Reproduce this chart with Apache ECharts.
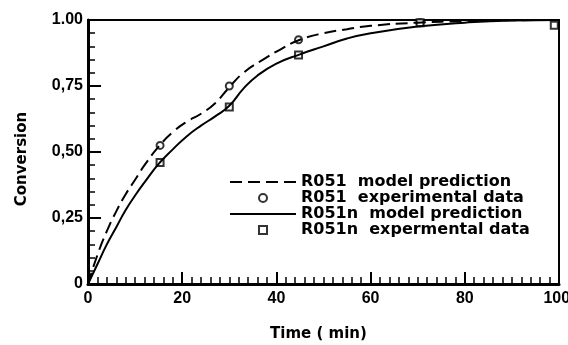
<!DOCTYPE html>
<html>
<head>
<meta charset="utf-8">
<script src="https://cdn.jsdelivr.net/npm/echarts@6/dist/echarts.min.js"></script>
<style>
  html, body { margin: 0; padding: 0; background: #fff; }
  #chart { width: 568px; height: 345px; }
</style>
</head>
<body>
<div id="chart"></div>
<script>
// Conversion vs time for catalysts R051 and R051n
const seriesNames = [
  'R051  model prediction',
  'R051  experimental data',
  'R051n  model prediction',
  'R051n  expermental data'
];

// model curves: [time (min), conversion]
const r051Model = [
  [0, 0], [2, 0.11], [4, 0.20], [6, 0.275], [8, 0.34], [10, 0.395], [12, 0.45],
  [15, 0.52], [18, 0.575], [21, 0.615], [24, 0.645], [27, 0.685], [30, 0.745],
  [33, 0.80], [37, 0.848], [41, 0.89], [45, 0.925], [50, 0.95], [55, 0.965],
  [60, 0.978], [70, 0.99], [80, 0.996], [90, 0.999], [100, 1.0]
];
const r051nModel = [
  [0, 0], [2, 0.075], [4, 0.15], [6, 0.215], [8, 0.28], [10, 0.335], [12, 0.385],
  [15, 0.455], [18, 0.51], [21, 0.56], [24, 0.60], [27, 0.635], [30, 0.675],
  [33, 0.74], [36, 0.79], [40, 0.835], [45, 0.87], [50, 0.90],
  [55, 0.93], [60, 0.95], [70, 0.975], [80, 0.99], [90, 0.998], [100, 1.0]
];

// measured points
const r051Data = [[15.3, 0.525], [30, 0.75], [44.7, 0.925], [70.5, 0.99]];
const r051nData = [[15.3, 0.46], [30, 0.67], [44.7, 0.867], [70.5, 0.99], [99, 0.98]];

const yTickLabels = { '0': '0', '0.25': '0,25', '0.5': '0,50', '0.75': '0,75', '1': '1.00' };

const FONT = 'DejaVu Sans';
const TICK_FONT = '"Liberation Sans", Arial, sans-serif';
const INK = '#000';
const SQUARE = 'path://M0,0H10V10H0Z';
const hidden = { color: 'rgba(0,0,0,0)', borderWidth: 0, borderColor: 'rgba(0,0,0,0)' };

const chart = echarts.init(document.getElementById('chart'), null, { renderer: 'canvas' });

chart.setOption({
  animation: false,
  backgroundColor: '#fff',
  grid: {
    left: 88, right: 9, top: 20, bottom: 61,
    outerBoundsMode: 'none', containLabel: false,
    show: true, borderColor: INK, borderWidth: 2, backgroundColor: 'transparent'
  },
  xAxis: {
    type: 'value', min: 0, max: 100, interval: 20,
    name: 'Time ( min)', nameLocation: 'middle', nameGap: 43,
    nameTextStyle: { fontFamily: FONT, fontSize: 15, fontWeight: 'bold', color: INK, padding: [0, 10, 0, 0] },
    axisLine: { show: true, onZero: false, lineStyle: { color: INK, width: 3 } },
    axisTick: { show: true, inside: true, length: 12, lineStyle: { color: INK, width: 2 } },
    minorTick: { show: true, splitNumber: 10, length: 7, lineStyle: { color: INK, width: 1.5 } },
    axisLabel: {
      fontFamily: TICK_FONT, fontSize: 16, fontWeight: 'bold', color: INK, margin: 7,
      // a trailing space nudges the last label back toward the canvas
      formatter: v => (v === 100 ? '100 ' : String(v))
    },
    splitLine: { show: false }
  },
  yAxis: {
    type: 'value', min: 0, max: 1, interval: 0.25,
    name: 'Conversion', nameLocation: 'middle', nameGap: 58, nameRotate: 90,
    nameTextStyle: { fontFamily: FONT, fontSize: 15, fontWeight: 'bold', color: INK, padding: [0, 14, 0, 0] },
    axisLine: { show: true, onZero: false, lineStyle: { color: INK, width: 3 } },
    axisTick: { show: true, inside: true, length: 13, lineStyle: { color: INK, width: 2 } },
    minorTick: { show: true, splitNumber: 5, length: 7, lineStyle: { color: INK, width: 1.5 } },
    axisLabel: {
      fontFamily: TICK_FONT, fontSize: 16, fontWeight: 'bold', color: INK, margin: 5,
      formatter: v => yTickLabels[String(v)] ?? String(v)
    },
    splitLine: { show: false }
  },
  legend: {
    orient: 'vertical', left: 224, top: 169,
    itemWidth: 66, itemHeight: 8, itemGap: 0,
    textStyle: { fontFamily: FONT, fontSize: 16, fontWeight: 'bold', color: INK, lineHeight: 15 },
    data: [
      { name: seriesNames[0], itemStyle: hidden },
      { name: seriesNames[1] },
      { name: seriesNames[2], itemStyle: hidden },
      { name: seriesNames[3] }
    ]
  },
  series: [
    {
      name: seriesNames[0], type: 'line', data: r051Model,
      smooth: 0.5, symbol: 'none', color: INK,
      lineStyle: { color: INK, width: 2, type: [12, 6] }
    },
    {
      name: seriesNames[1], type: 'scatter', data: r051Data,
      symbol: 'circle', symbolSize: 7, symbolKeepAspect: true,
      itemStyle: { color: '#fff', borderColor: INK, borderWidth: 2 }
    },
    {
      name: seriesNames[2], type: 'line', data: r051nModel,
      smooth: 0.5, symbol: 'none', color: INK,
      lineStyle: { color: INK, width: 2, type: 'solid' }
    },
    {
      name: seriesNames[3], type: 'scatter', data: r051nData,
      symbol: SQUARE, symbolSize: 7, symbolKeepAspect: true,
      itemStyle: { color: '#fff', borderColor: INK, borderWidth: 2 }
    }
  ]
});
</script>
</body>
</html>
